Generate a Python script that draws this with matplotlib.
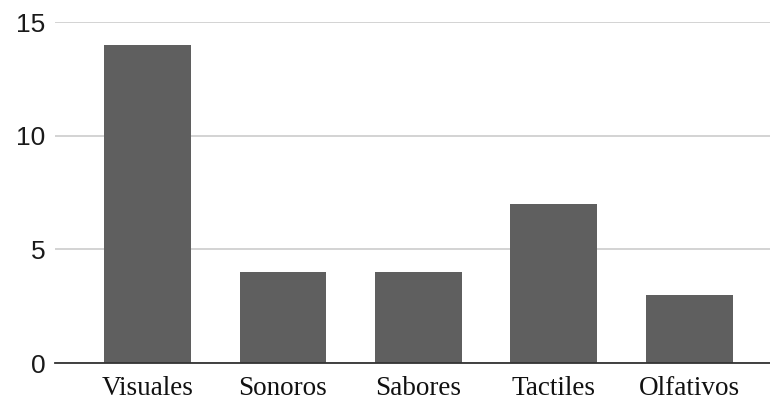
import matplotlib.pyplot as plt

categories = ["Visuales", "Sonoros", "Sabores", "Tactiles", "Olfativos"]
values = [14, 4, 4, 7, 3]
yticks = [0, 5, 10, 15]

fig = plt.figure(figsize=(7.7, 4.08), dpi=100)
ax = fig.add_axes([0.0714, 0.110, 0.9286, 0.836])

x = range(len(categories))
ax.bar(x, values, width=0.64, color="#5f5f5f", zorder=3)

ax.set_xlim(-0.683, 4.596)
ax.set_ylim(0, 15)
ax.set_yticks(yticks)
ax.set_yticklabels([str(v) for v in yticks], fontsize=19, family="Liberation Sans", color="#1a1a1a")
ax.set_xticks(list(x))
ax.set_xticklabels(categories, fontsize=19.5, family="Liberation Serif", color="#111111")

ax.grid(axis="y", color="#cccccc", lw=1.2, zorder=0)
ax.tick_params(axis="both", length=0)
ax.tick_params(axis="x", pad=9)
ax.tick_params(axis="y", pad=7)
for side in ["top", "right", "left"]:
    ax.spines[side].set_visible(False)
ax.spines["bottom"].set_color("#333333")
ax.spines["bottom"].set_linewidth(1.3)
ax.spines["bottom"].set_zorder(4)

fig.savefig("out.png", dpi=100)
